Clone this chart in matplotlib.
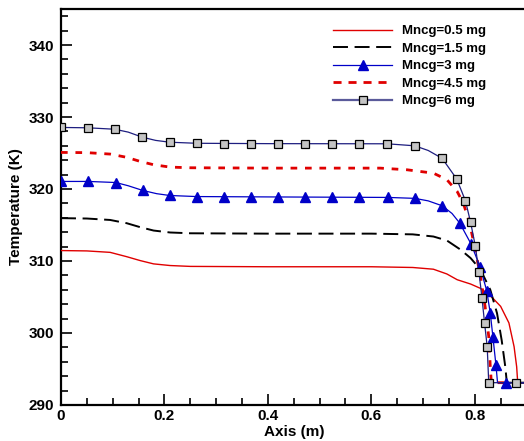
import matplotlib
matplotlib.use("Agg")
import matplotlib.pyplot as plt
from matplotlib.ticker import MultipleLocator

plt.rcParams['font.family'] = ['Liberation Sans', 'DejaVu Sans']
plt.rcParams['font.weight'] = 'bold'

labels = ["Mncg=0.5 mg", "Mncg=1.5 mg", "Mncg=3 mg", "Mncg=4.5 mg", "Mncg=6 mg"]

x05 = [0, 0.05, 0.095, 0.127, 0.153, 0.179, 0.211, 0.25, 0.4, 0.6, 0.68, 0.72, 0.746,
       0.766, 0.792, 0.811, 0.83, 0.85, 0.866, 0.876, 0.881, 0.883, 0.9]
t05 = [311.45, 311.4, 311.2, 310.6, 310.06, 309.6, 309.37, 309.25, 309.2, 309.2, 309.1,
       308.86, 308.2, 307.4, 306.8, 306.2, 305.2, 303.7, 301.4, 298.1, 295.3, 293.1, 293.1]

x15 = [0, 0.05, 0.095, 0.127, 0.153, 0.179, 0.211, 0.25, 0.4, 0.6, 0.68, 0.72, 0.746,
       0.772, 0.792, 0.811, 0.83, 0.843, 0.852, 0.859, 0.862, 0.9]
t15 = [315.95, 315.9, 315.7, 315.25, 314.7, 314.23, 313.96, 313.85, 313.8, 313.8, 313.7,
       313.4, 312.85, 311.6, 310.4, 308.8, 306.0, 302.75, 299.0, 295.3, 293.1, 293.1]

x3_line = [0, 0.053, 0.106, 0.13, 0.158, 0.185, 0.21, 0.262, 0.4, 0.632, 0.684, 0.71, 0.737,
           0.756, 0.771, 0.793, 0.81, 0.823, 0.83, 0.835, 0.841, 0.844, 0.9]
t3_line = [321.05, 321.05, 320.9, 320.45, 319.8, 319.35, 319.1, 318.95, 318.9, 318.83, 318.7,
           318.35, 317.67, 316.6, 315.26, 312.34, 309.23, 305.9, 302.75, 299.5, 295.5, 293.1, 293.1]
x3_mark = [0, 0.053, 0.106, 0.158, 0.21, 0.262, 0.315, 0.367, 0.42, 0.472, 0.524, 0.577,
           0.632, 0.684, 0.737, 0.771, 0.793, 0.81, 0.823, 0.83, 0.835, 0.841, 0.861]
t3_mark = [321.05, 321.05, 320.9, 319.8, 319.1, 318.95, 318.9, 318.9, 318.9, 318.9, 318.9,
           318.9, 318.83, 318.7, 317.67, 315.26, 312.34, 309.23, 305.9, 302.75, 299.5, 295.5, 293.1]

x45 = [0, 0.05, 0.095, 0.127, 0.153, 0.179, 0.211, 0.25, 0.4, 0.617, 0.669, 0.72, 0.746,
       0.766, 0.778, 0.79, 0.801, 0.811, 0.82, 0.827, 0.83, 0.832, 0.9]
t45 = [325.08, 325.05, 324.85, 324.4, 323.83, 323.37, 323.04, 322.95, 322.9, 322.9, 322.67,
       322.2, 321.3, 319.65, 318.0, 315.26, 311.55, 307.84, 303.67, 299.5, 295.3, 293.1, 293.1]

x6_line = [0, 0.052, 0.104, 0.13, 0.157, 0.183, 0.21, 0.262, 0.4, 0.63, 0.684, 0.71, 0.737,
           0.765, 0.782, 0.792, 0.801, 0.808, 0.814, 0.819, 0.824, 0.827, 0.9]
t6_line = [328.55, 328.5, 328.3, 327.9, 327.2, 326.75, 326.5, 326.35, 326.3, 326.28, 326.0,
           325.35, 324.25, 321.4, 318.36, 315.35, 312.1, 308.5, 304.8, 301.35, 298.1, 293.1, 293.1]
x6_mark = [0, 0.052, 0.104, 0.157, 0.21, 0.262, 0.315, 0.367, 0.42, 0.472, 0.524, 0.577,
           0.63, 0.684, 0.737, 0.765, 0.782, 0.792, 0.801, 0.808, 0.814, 0.819, 0.824, 0.827, 0.88]
t6_mark = [328.55, 328.5, 328.3, 327.2, 326.5, 326.35, 326.3, 326.3, 326.3, 326.3, 326.3,
           326.3, 326.28, 326.0, 324.25, 321.4, 318.36, 315.35, 312.1, 308.5, 304.8, 301.35,
           298.1, 293.1, 293.1]

xticks = [0, 0.2, 0.4, 0.6, 0.8]
xticklabels = ["0", "0.2", "0.4", "0.6", "0.8"]
yticks = [290, 300, 310, 320, 330, 340]

fig = plt.figure(figsize=(5.24, 4.41), dpi=100)
ax = fig.add_axes([61 / 524, 1 - 405 / 441, 465.5 / 524, 396 / 441])

navy = '#1e1e80'
blue = '#0000c8'
red = '#e00000'

ax.plot(x05, t05, color=red, lw=1.0, zorder=3)
ax.plot(x15, t15, color='black', lw=1.4, dashes=(7.7, 3.4), zorder=3)
ax.plot(x3_line, t3_line, color=blue, lw=0.9, zorder=4)
ax.plot(x3_mark, t3_mark, ls='none', marker='^', ms=7.5, color=blue, mec=blue, zorder=5)
ax.plot(x45, t45, color=red, lw=2.0, dashes=(2.4, 2.8), zorder=3)
ax.plot(x6_line, t6_line, color=navy, lw=0.9, zorder=4)
ax.plot(x6_mark, t6_mark, ls='none', marker='s', ms=5.5, mfc='#c4c4c4', mec='black',
        mew=0.9, zorder=6)

# legend proxies
h1, = ax.plot([], [], color=red, lw=1.0)
h2, = ax.plot([], [], color='black', lw=1.4, dashes=(7.7, 3.4))
h3, = ax.plot([], [], color=blue, lw=0.9, marker='^', ms=7.5, mec=blue)
h4, = ax.plot([], [], color=red, lw=2.0, dashes=(2.9, 2.5))
h5, = ax.plot([], [], color='#5a5a9a', lw=1.6, marker='s', ms=5.5, mfc='#c4c4c4',
              mec='black', mew=0.9)
leg = ax.legend([h1, h2, h3, h4, h5], labels, loc='upper left',
                bbox_to_anchor=(333 / 524, 1 - 25 / 441), bbox_transform=fig.transFigure,
                frameon=False, fontsize=9.5, handlelength=4.5, handletextpad=0.75,
                labelspacing=0.4, borderpad=0, borderaxespad=0, markerfirst=True)
for t in leg.get_texts():
    t.set_fontweight('bold')

ax.set_xlim(0, 0.9)
ax.set_ylim(290, 345)
ax.set_xticks(xticks)
ax.set_xticklabels(xticklabels)
ax.set_yticks(yticks)
ax.xaxis.set_minor_locator(MultipleLocator(0.05))
ax.yaxis.set_minor_locator(MultipleLocator(2))
ax.tick_params(which='both', direction='in', width=1.2, labelsize=11, top=False, right=False)
ax.tick_params(which='major', length=8)
ax.tick_params(which='minor', length=5)
ax.tick_params(axis='y', pad=5)
ax.tick_params(axis='x', pad=3)
for lab in ax.get_xticklabels() + ax.get_yticklabels():
    lab.set_fontweight('bold')
for s in ax.spines.values():
    s.set_linewidth(1.6)
ax.spines['right'].set_visible(False)

ax.set_xlabel("Axis (m)", fontsize=11, fontweight='bold', labelpad=1)
ax.set_ylabel("Temperature (K)", fontsize=11, fontweight='bold', labelpad=4)

fig.savefig("out.png", dpi=100)
